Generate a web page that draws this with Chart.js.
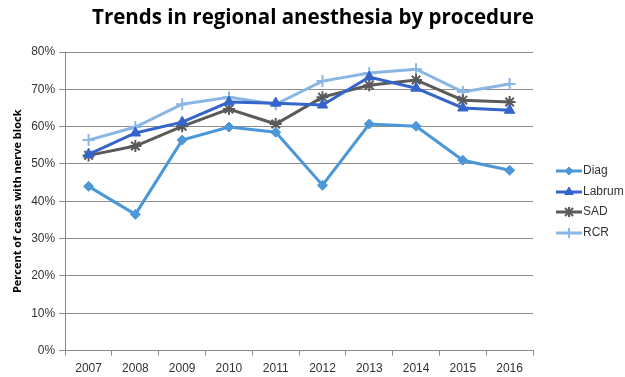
<!DOCTYPE html>
<html>
<head>
<meta charset="utf-8">
<script src="https://cdn.jsdelivr.net/npm/chart.js@4.4.0/dist/chart.umd.min.js"></script>
<style>
  html, body { margin: 0; padding: 0; background: #fff; }
  #wrap { width: 625px; height: 377px; position: relative; }
</style>
</head>
<body>
<div id="wrap"><canvas id="chart" width="625" height="377"></canvas></div>
<script>
// Data
const years = ["2007", "2008", "2009", "2010", "2011", "2012", "2013", "2014", "2015", "2016"];
const diag = [44.0, 36.5, 56.4, 59.9, 58.5, 44.3, 60.7, 60.1, 51.0, 48.3];
const labrum = [52.6, 58.3, 61.2, 66.6, 66.3, 65.8, 73.3, 70.3, 65.0, 64.4];
const sad = [52.3, 54.8, 60.1, 64.7, 60.7, 67.9, 71.1, 72.5, 67.1, 66.6];
const rcr = [56.4, 59.9, 66.0, 67.9, 66.0, 72.2, 74.4, 75.4, 69.3, 71.4];

const FONT = "'Liberation Sans', Arial, sans-serif";
const TITLE_FONT = "'Open Sans', 'Liberation Sans', sans-serif";

const makeSet = (label, data, color, style, radius) => ({
    label: label,
    data: data,
    borderColor: color,
    backgroundColor: color,
    pointBorderColor: color,
    pointBackgroundColor: color,
    pointStyle: style,
    pointRadius: radius,
    pointBorderWidth: style === 'star' || style === 'cross' ? 2 : 1,
    borderWidth: 3,
    tension: 0
});

const datasets = [
    makeSet("Diag", diag, "#4b97d8", "rectRot", 5),
    makeSet("Labrum", labrum, "#3565cb", "triangle", 6),
    makeSet("SAD", sad, "#5a5a5a", "star", 6),
    makeSet("RCR", rcr, "#8ab6e6", "cross", 6)
];

// Title drawn centred over the whole picture, like the original
const topTitle = {
    id: 'topTitle',
    afterDraw(chart) {
        const ctx = chart.ctx;
        ctx.save();
        ctx.fillStyle = "#000";
        ctx.font = "bold 20.5px " + TITLE_FONT;
        ctx.textAlign = "center";
        ctx.textBaseline = "middle";
        ctx.fillText("Trends in regional anesthesia by procedure", 313, 18);
        ctx.restore();
    }
};

// Legend on the right, drawn as line + marker
const sideLegend = {
    id: 'sideLegend',
    afterDraw(chart) {
        const ctx = chart.ctx;
        const x0 = 556, rowY = [171, 192, 212, 233];
        ctx.save();
        chart.data.datasets.forEach((ds, i) => {
            const y = rowY[i];
            const cx = x0 + 13;
            ctx.strokeStyle = ds.borderColor;
            ctx.fillStyle = ds.borderColor;
            ctx.lineWidth = 3;
            ctx.beginPath();
            ctx.moveTo(x0, y);
            ctx.lineTo(x0 + 26, y);
            ctx.stroke();
            ctx.lineWidth = ds.pointBorderWidth;
            if (ds.pointStyle === 'star') {
                const r = 4;
                ctx.beginPath();
                ctx.moveTo(cx - r, y - r); ctx.lineTo(cx + r, y + r);
                ctx.moveTo(cx - r, y + r); ctx.lineTo(cx + r, y - r);
                ctx.moveTo(cx, y - r - 1); ctx.lineTo(cx, y + r + 1);
                ctx.stroke();
            } else {
                Chart.helpers.drawPoint(ctx, {
                    pointStyle: ds.pointStyle,
                    radius: ds.pointRadius - 1,
                    borderWidth: ds.pointBorderWidth,
                    rotation: 0
                }, cx, y);
            }
            ctx.fillStyle = "#333";
            ctx.font = "12px " + FONT;
            ctx.textAlign = "left";
            ctx.textBaseline = "middle";
            ctx.fillText(ds.label, x0 + 27, y);
        });
        ctx.restore();
    }
};

new Chart(document.getElementById("chart"), {
    type: 'line',
    data: { labels: years, datasets: datasets },
    options: {
        responsive: false,
        animation: false,
        layout: { padding: { left: 11, right: 92, top: 52, bottom: -5 } },
        plugins: {
            legend: { display: false },
            tooltip: { enabled: false },
            title: { display: false }
        },
        scales: {
            x: {
                offset: true,
                grid: {
                    display: true,
                    drawOnChartArea: false,
                    offset: true,
                    color: "#888",
                    tickLength: 5
                },
                border: { color: "#888", width: 1 },
                ticks: { color: "#333", font: { family: FONT, size: 12 }, padding: 6 }
            },
            y: {
                min: 0,
                max: 80,
                grid: { color: "#8c8c8c", lineWidth: 1, tickLength: 6 },
                border: { color: "#888", width: 1 },
                ticks: {
                    stepSize: 10,
                    color: "#333",
                    font: { family: FONT, size: 12 },
                    padding: 4,
                    callback: v => v + "%"
                },
                title: {
                    display: true,
                    text: "Percent of cases with nerve block",
                    color: "#000",
                    font: { family: TITLE_FONT, size: 11, weight: 'bold' },
                    padding: { top: 0, bottom: 3 }
                }
            }
        }
    },
    plugins: [topTitle, sideLegend]
});
</script>
</body>
</html>
